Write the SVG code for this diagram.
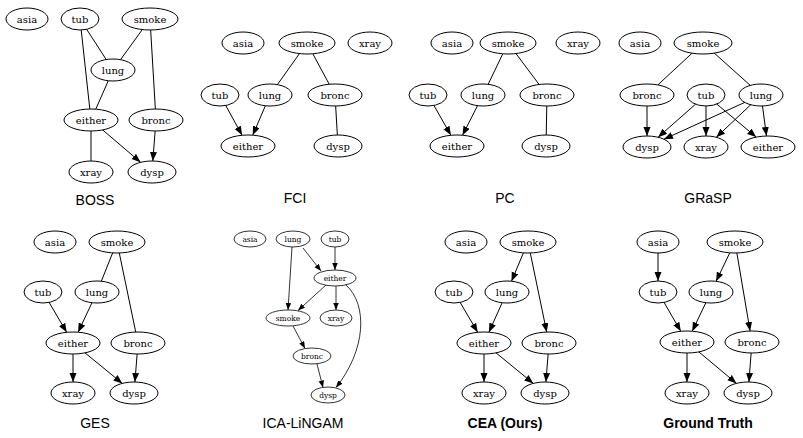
<svg xmlns="http://www.w3.org/2000/svg" width="803" height="438" viewBox="0 0 803 438">
<style>
.n ellipse{fill:#fff;stroke:#000;stroke-width:1}
.n text{font-family:"DejaVu Serif","Liberation Serif",serif;font-size:10px;text-anchor:middle;fill:#000}
.s ellipse{fill:#fff;stroke:#000;stroke-width:0.8}
.s text{font-family:"DejaVu Serif","Liberation Serif",serif;font-size:7.5px;text-anchor:middle;fill:#000}
.e line,.e path{stroke:#000;stroke-width:1;fill:none}
.e .a{marker-end:url(#ah)}
.e .b{marker-end:url(#ahs);stroke-width:0.8}
.cap{font-family:"Liberation Sans",Arial,sans-serif;font-size:14px;text-anchor:middle;fill:#000}
.capb{font-family:"Liberation Sans",Arial,sans-serif;font-size:14px;font-weight:bold;text-anchor:middle;fill:#000}
</style>
<defs>
<marker id="ah" markerUnits="userSpaceOnUse" markerWidth="10" markerHeight="8" refX="9" refY="3.5" orient="auto"><path d="M0,0 L9,3.5 L0,7 z" fill="#000"/></marker>
<marker id="ahs" markerUnits="userSpaceOnUse" markerWidth="8" markerHeight="6" refX="7" refY="2.75" orient="auto"><path d="M0,0 L7,2.75 L0,5.5 z" fill="#000"/></marker>
</defs>
<rect width="803" height="438" fill="#fff"/>

<g id="edges" class="e">
<!-- BOSS -->
<line x1="80" y1="19" x2="113" y2="70"/>
<line x1="80" y1="19" x2="91" y2="120"/>
<line x1="150" y1="19" x2="113" y2="70"/>
<line x1="150" y1="19" x2="156" y2="120"/>
<line x1="113" y1="70" x2="91" y2="120"/>
<line x1="91" y1="120" x2="91" y2="172"/>
<line class="a" x1="91" y1="120" x2="140.6" y2="162.3"/>
<line class="a" x1="156" y1="120" x2="152.8" y2="161"/>
<!-- FCI -->
<line x1="307" y1="43" x2="270" y2="95"/>
<line x1="307" y1="43" x2="335" y2="95"/>
<line class="a" x1="220" y1="95" x2="242.1" y2="135.3"/>
<line class="a" x1="270" y1="95" x2="252.7" y2="135.2"/>
<line x1="335" y1="95" x2="338" y2="146"/>
<!-- PC -->
<line x1="508" y1="43" x2="483" y2="95"/>
<line x1="508" y1="43" x2="547" y2="95"/>
<line class="a" x1="428" y1="95" x2="450.9" y2="135.3"/>
<line class="a" x1="483" y1="95" x2="462.5" y2="135.2"/>
<line x1="547" y1="95" x2="546" y2="146"/>
<!-- GRaSP -->
<line x1="703" y1="43" x2="647" y2="95"/>
<line x1="703" y1="43" x2="761" y2="95"/>
<line class="a" x1="647" y1="95" x2="647" y2="136"/>
<line class="a" x1="706" y1="95" x2="658.1" y2="137.2"/>
<line class="a" x1="706" y1="95" x2="706" y2="136"/>
<line class="a" x1="706" y1="95" x2="756.2" y2="137.1"/>
<line class="a" x1="761" y1="95" x2="664" y2="139.2"/>
<line class="a" x1="761" y1="95" x2="716.3" y2="137.3"/>
<line class="a" x1="761" y1="95" x2="766.5" y2="136"/>
<!-- GES -->
<line x1="117" y1="242" x2="97" y2="292"/>
<line x1="117" y1="242" x2="138" y2="343"/>
<line class="a" x1="43" y1="292" x2="66.7" y2="332.3"/>
<line class="a" x1="97" y1="292" x2="78.1" y2="332.2"/>
<line class="a" x1="73" y1="343" x2="73" y2="382"/>
<line class="a" x1="73" y1="343" x2="122.3" y2="383.4"/>
<line class="a" x1="138" y1="343" x2="134.9" y2="382"/>
<!-- ICA-LiNGAM -->
<line class="b" x1="303" y1="248" x2="321" y2="271"/>
<line class="b" x1="292" y1="247" x2="288" y2="310"/>
<line class="b" x1="335" y1="247" x2="335" y2="270"/>
<line class="b" x1="326" y1="285" x2="298" y2="310.5"/>
<line class="b" x1="336" y1="286" x2="336" y2="310"/>
<path class="b" d="M346,285 C368,305 366,350 336,387.5"/>
<line class="b" x1="293" y1="326" x2="305" y2="348.5"/>
<line class="b" x1="317" y1="364" x2="323" y2="387.5"/>
<!-- CEA -->
<line class="a" x1="528" y1="242" x2="511.5" y2="281.2"/>
<line class="a" x1="528" y1="242" x2="546.7" y2="332"/>
<line class="a" x1="454" y1="292" x2="477.7" y2="332.3"/>
<line class="a" x1="507" y1="292" x2="488.9" y2="332.2"/>
<line class="a" x1="484" y1="343" x2="484" y2="382"/>
<line class="a" x1="484" y1="343" x2="533.3" y2="383.4"/>
<line class="a" x1="549" y1="343" x2="545.9" y2="382"/>
<!-- Ground Truth -->
<line class="a" x1="658" y1="242" x2="658" y2="281"/>
<line class="a" x1="735" y1="242" x2="716.1" y2="281.3"/>
<line class="a" x1="735" y1="242" x2="750.1" y2="331"/>
<line class="a" x1="658" y1="292" x2="680.8" y2="331.3"/>
<line class="a" x1="711" y1="292" x2="692.2" y2="331.2"/>
<line class="a" x1="687" y1="342" x2="687" y2="382"/>
<line class="a" x1="687" y1="342" x2="736.5" y2="383.4"/>
<line class="a" x1="752" y1="342" x2="748.9" y2="382"/>
</g>

<!-- BOSS -->
<g id="boss">
<g id="boss-asia" class="n"><ellipse cx="27" cy="19" rx="21" ry="11"/><text x="27" y="22.5">asia</text></g>
<g id="boss-tub" class="n"><ellipse cx="80" cy="19" rx="19" ry="11"/><text x="80" y="22.5">tub</text></g>
<g id="boss-smoke" class="n"><ellipse cx="150" cy="19" rx="28" ry="11"/><text x="150" y="22.5">smoke</text></g>
<g id="boss-lung" class="n"><ellipse cx="113" cy="70" rx="22" ry="11"/><text x="113" y="73.5">lung</text></g>
<g id="boss-either" class="n"><ellipse cx="91" cy="120" rx="27" ry="11"/><text x="91" y="123.5">either</text></g>
<g id="boss-bronc" class="n"><ellipse cx="156" cy="120" rx="27" ry="11"/><text x="156" y="123.5">bronc</text></g>
<g id="boss-xray" class="n"><ellipse cx="91" cy="172" rx="22" ry="11"/><text x="91" y="175.5">xray</text></g>
<g id="boss-dysp" class="n"><ellipse cx="152" cy="172" rx="24" ry="11"/><text x="152" y="175.5">dysp</text></g>
<text class="cap" x="95" y="205">BOSS</text>
</g>

<!-- FCI -->
<g id="fci">
<g id="fci-asia" class="n"><ellipse cx="243" cy="43" rx="21" ry="11"/><text x="243" y="46.5">asia</text></g>
<g id="fci-smoke" class="n"><ellipse cx="307" cy="43" rx="28" ry="11"/><text x="307" y="46.5">smoke</text></g>
<g id="fci-xray" class="n"><ellipse cx="370" cy="43" rx="22" ry="11"/><text x="370" y="46.5">xray</text></g>
<g id="fci-tub" class="n"><ellipse cx="220" cy="95" rx="19" ry="11"/><text x="220" y="98.5">tub</text></g>
<g id="fci-lung" class="n"><ellipse cx="270" cy="95" rx="22" ry="11"/><text x="270" y="98.5">lung</text></g>
<g id="fci-bronc" class="n"><ellipse cx="335" cy="95" rx="27" ry="11"/><text x="335" y="98.5">bronc</text></g>
<g id="fci-either" class="n"><ellipse cx="248" cy="146" rx="27" ry="11"/><text x="248" y="149.5">either</text></g>
<g id="fci-dysp" class="n"><ellipse cx="338" cy="146" rx="24" ry="11"/><text x="338" y="149.5">dysp</text></g>
<text class="cap" x="295" y="203">FCI</text>
</g>

<!-- PC -->
<g id="pc">
<g id="pc-asia" class="n"><ellipse cx="452" cy="43" rx="21" ry="11"/><text x="452" y="46.5">asia</text></g>
<g id="pc-smoke" class="n"><ellipse cx="508" cy="43" rx="28" ry="11"/><text x="508" y="46.5">smoke</text></g>
<g id="pc-xray" class="n"><ellipse cx="578" cy="43" rx="22" ry="11"/><text x="578" y="46.5">xray</text></g>
<g id="pc-tub" class="n"><ellipse cx="428" cy="95" rx="19" ry="11"/><text x="428" y="98.5">tub</text></g>
<g id="pc-lung" class="n"><ellipse cx="483" cy="95" rx="22" ry="11"/><text x="483" y="98.5">lung</text></g>
<g id="pc-bronc" class="n"><ellipse cx="547" cy="95" rx="27" ry="11"/><text x="547" y="98.5">bronc</text></g>
<g id="pc-either" class="n"><ellipse cx="457" cy="146" rx="27" ry="11"/><text x="457" y="149.5">either</text></g>
<g id="pc-dysp" class="n"><ellipse cx="546" cy="146" rx="24" ry="11"/><text x="546" y="149.5">dysp</text></g>
<text class="cap" x="505" y="203">PC</text>
</g>

<!-- GRaSP -->
<g id="grasp">
<g id="grasp-asia" class="n"><ellipse cx="640" cy="43" rx="21" ry="11"/><text x="640" y="46.5">asia</text></g>
<g id="grasp-smoke" class="n"><ellipse cx="703" cy="43" rx="29" ry="11"/><text x="703" y="46.5">smoke</text></g>
<g id="grasp-bronc" class="n"><ellipse cx="647" cy="95" rx="27" ry="11"/><text x="647" y="98.5">bronc</text></g>
<g id="grasp-tub" class="n"><ellipse cx="706" cy="95" rx="19" ry="11"/><text x="706" y="98.5">tub</text></g>
<g id="grasp-lung" class="n"><ellipse cx="761" cy="95" rx="22" ry="11"/><text x="761" y="98.5">lung</text></g>
<g id="grasp-dysp" class="n"><ellipse cx="647" cy="147" rx="24" ry="11"/><text x="647" y="150.5">dysp</text></g>
<g id="grasp-xray" class="n"><ellipse cx="706" cy="147" rx="22" ry="11"/><text x="706" y="150.5">xray</text></g>
<g id="grasp-either" class="n"><ellipse cx="768" cy="147" rx="27" ry="11"/><text x="768" y="150.5">either</text></g>
<text class="cap" x="708" y="203">GRaSP</text>
</g>

<!-- GES -->
<g id="ges">
<g id="ges-asia" class="n"><ellipse cx="55" cy="242" rx="21" ry="11"/><text x="55" y="245.5">asia</text></g>
<g id="ges-smoke" class="n"><ellipse cx="117" cy="242" rx="28" ry="11"/><text x="117" y="245.5">smoke</text></g>
<g id="ges-tub" class="n"><ellipse cx="43" cy="292" rx="19" ry="11"/><text x="43" y="295.5">tub</text></g>
<g id="ges-lung" class="n"><ellipse cx="97" cy="292" rx="22" ry="11"/><text x="97" y="295.5">lung</text></g>
<g id="ges-either" class="n"><ellipse cx="73" cy="343" rx="27" ry="11"/><text x="73" y="346.5">either</text></g>
<g id="ges-bronc" class="n"><ellipse cx="138" cy="343" rx="27" ry="11"/><text x="138" y="346.5">bronc</text></g>
<g id="ges-xray" class="n"><ellipse cx="73" cy="393" rx="22" ry="11"/><text x="73" y="396.5">xray</text></g>
<g id="ges-dysp" class="n"><ellipse cx="134" cy="393" rx="24" ry="11"/><text x="134" y="396.5">dysp</text></g>
<text class="cap" x="95" y="428">GES</text>
</g>

<!-- ICA-LiNGAM -->
<g id="ica">
<g id="ica-asia" class="s"><ellipse cx="250" cy="239" rx="16" ry="8"/><text x="250" y="241.7">asia</text></g>
<g id="ica-lung" class="s"><ellipse cx="293" cy="239" rx="17" ry="8"/><text x="293" y="241.7">lung</text></g>
<g id="ica-tub" class="s"><ellipse cx="335" cy="239" rx="14" ry="8"/><text x="335" y="241.7">tub</text></g>
<g id="ica-either" class="s"><ellipse cx="335" cy="278" rx="21" ry="8"/><text x="335" y="280.7">either</text></g>
<g id="ica-smoke" class="s"><ellipse cx="288" cy="318" rx="22" ry="8"/><text x="288" y="320.7">smoke</text></g>
<g id="ica-xray" class="s"><ellipse cx="336" cy="318" rx="16" ry="8"/><text x="336" y="320.7">xray</text></g>
<g id="ica-bronc" class="s"><ellipse cx="312" cy="356" rx="19" ry="8"/><text x="312" y="358.7">bronc</text></g>
<g id="ica-dysp" class="s"><ellipse cx="328" cy="395" rx="17" ry="8"/><text x="328" y="397.7">dysp</text></g>
<text class="cap" x="303" y="428">ICA-LiNGAM</text>
</g>

<!-- CEA -->
<g id="cea">
<g id="cea-asia" class="n"><ellipse cx="466" cy="242" rx="21" ry="11"/><text x="466" y="245.5">asia</text></g>
<g id="cea-smoke" class="n"><ellipse cx="528" cy="242" rx="28" ry="11"/><text x="528" y="245.5">smoke</text></g>
<g id="cea-tub" class="n"><ellipse cx="454" cy="292" rx="19" ry="11"/><text x="454" y="295.5">tub</text></g>
<g id="cea-lung" class="n"><ellipse cx="507" cy="292" rx="22" ry="11"/><text x="507" y="295.5">lung</text></g>
<g id="cea-either" class="n"><ellipse cx="484" cy="343" rx="27" ry="11"/><text x="484" y="346.5">either</text></g>
<g id="cea-bronc" class="n"><ellipse cx="549" cy="343" rx="27" ry="11"/><text x="549" y="346.5">bronc</text></g>
<g id="cea-xray" class="n"><ellipse cx="484" cy="393" rx="22" ry="11"/><text x="484" y="396.5">xray</text></g>
<g id="cea-dysp" class="n"><ellipse cx="545" cy="393" rx="24" ry="11"/><text x="545" y="396.5">dysp</text></g>
<text class="capb" x="505" y="428">CEA (Ours)</text>
</g>

<!-- Ground Truth -->
<g id="gt">
<g id="gt-asia" class="n"><ellipse cx="658" cy="242" rx="21" ry="11"/><text x="658" y="245.5">asia</text></g>
<g id="gt-smoke" class="n"><ellipse cx="735" cy="242" rx="28" ry="11"/><text x="735" y="245.5">smoke</text></g>
<g id="gt-tub" class="n"><ellipse cx="658" cy="292" rx="19" ry="11"/><text x="658" y="295.5">tub</text></g>
<g id="gt-lung" class="n"><ellipse cx="711" cy="292" rx="22" ry="11"/><text x="711" y="295.5">lung</text></g>
<g id="gt-either" class="n"><ellipse cx="687" cy="342" rx="27" ry="11"/><text x="687" y="345.5">either</text></g>
<g id="gt-bronc" class="n"><ellipse cx="752" cy="342" rx="27" ry="11"/><text x="752" y="345.5">bronc</text></g>
<g id="gt-xray" class="n"><ellipse cx="687" cy="393" rx="22" ry="11"/><text x="687" y="396.5">xray</text></g>
<g id="gt-dysp" class="n"><ellipse cx="748" cy="393" rx="24" ry="11"/><text x="748" y="396.5">dysp</text></g>
<text class="capb" x="708" y="428">Ground Truth</text>
</g>
</svg>
